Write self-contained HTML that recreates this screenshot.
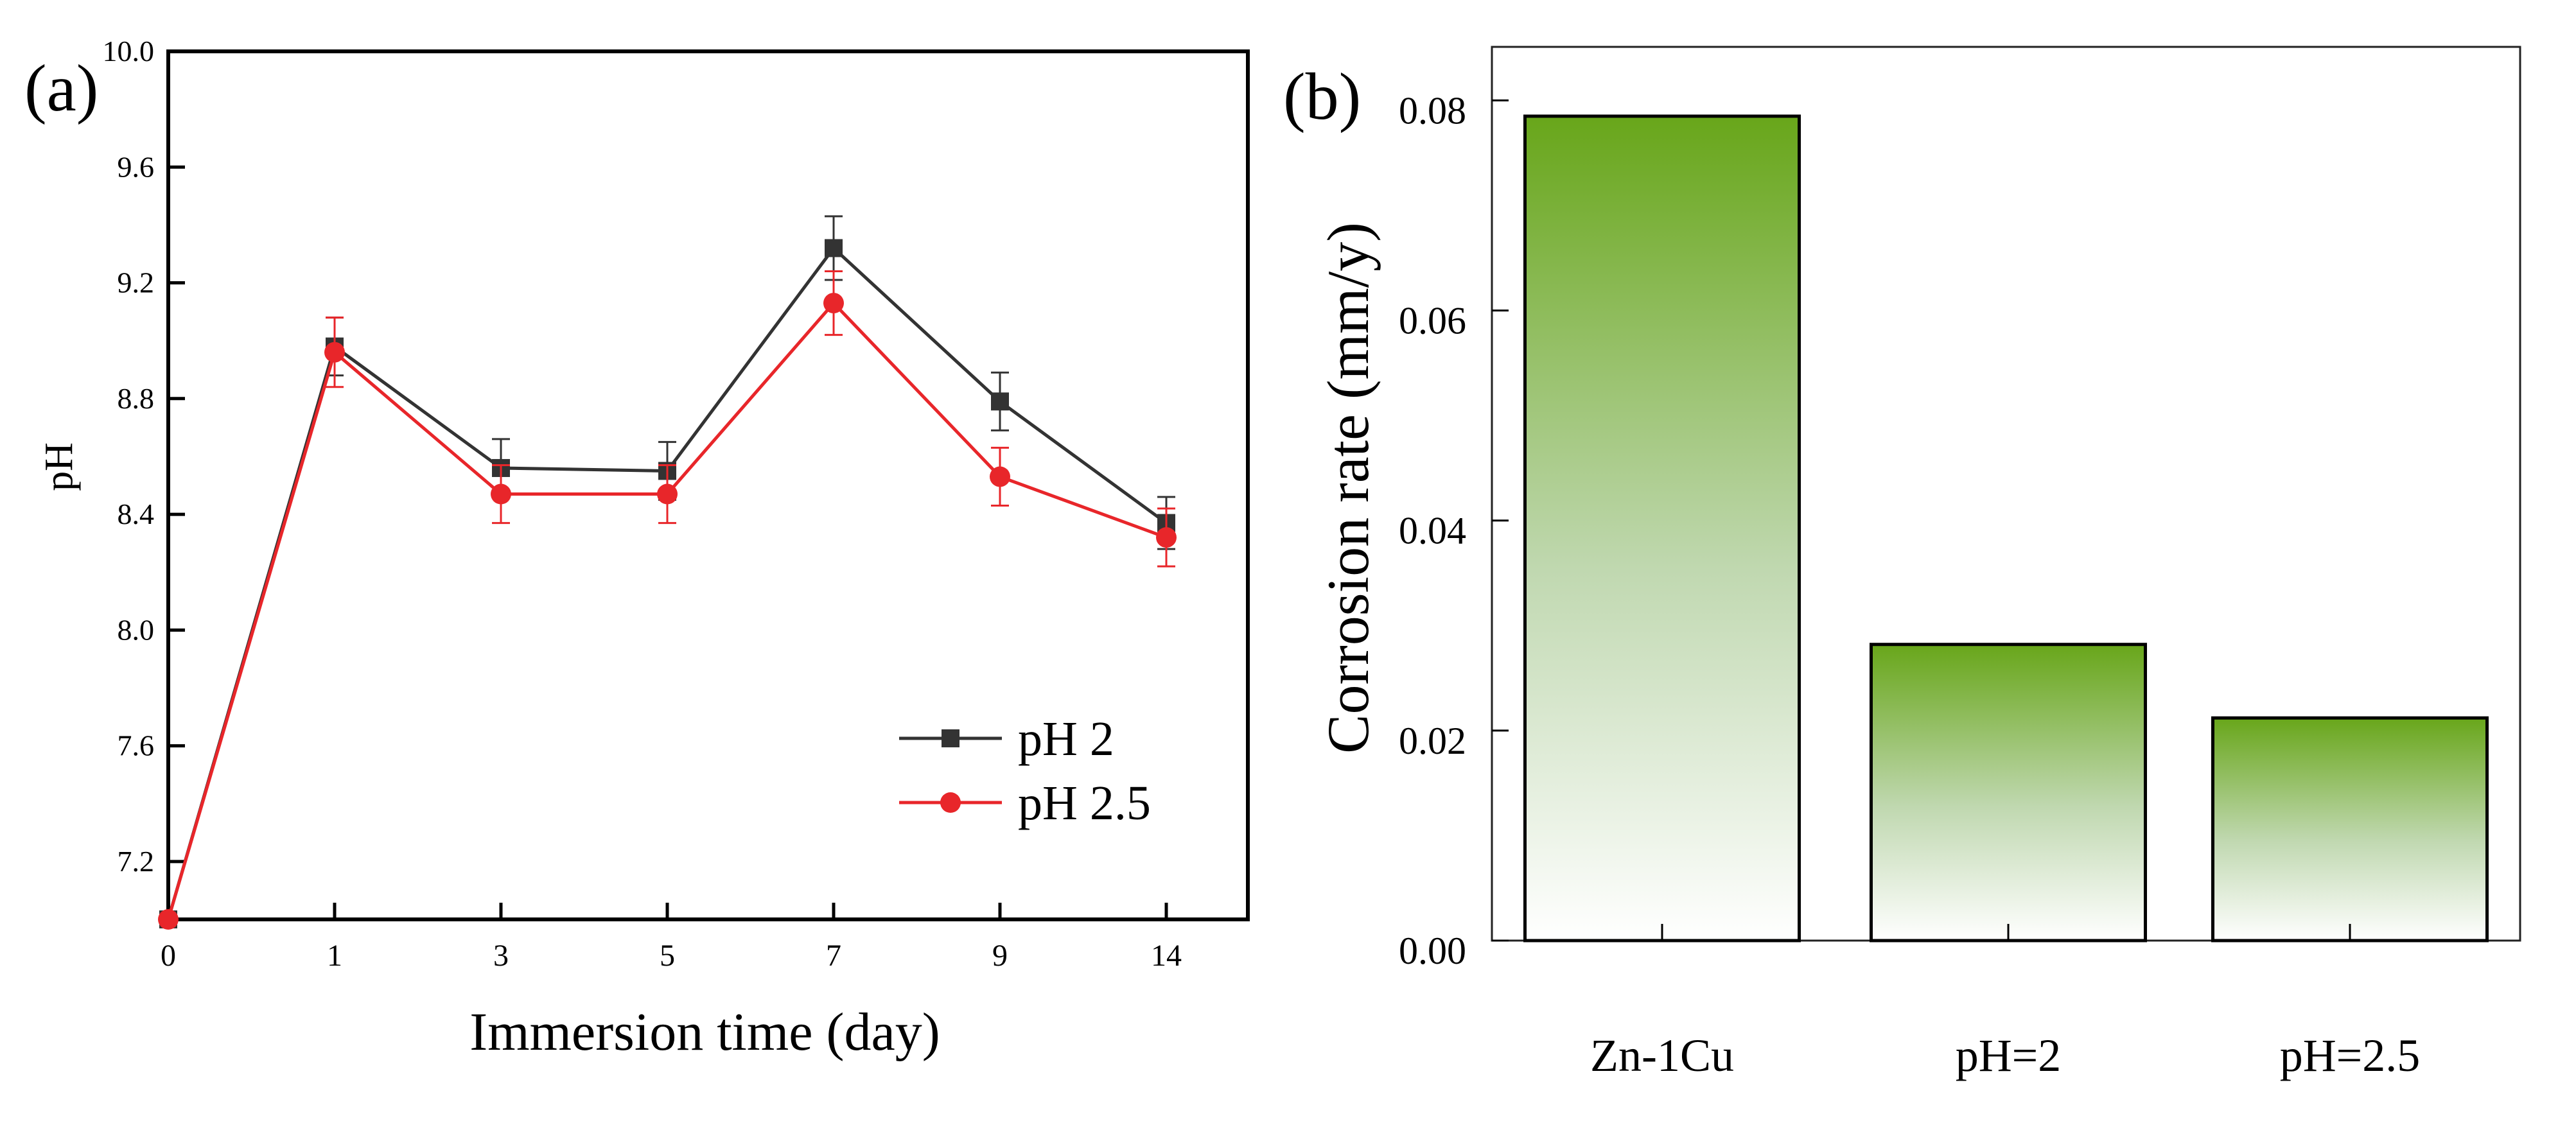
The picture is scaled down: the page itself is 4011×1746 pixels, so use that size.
<!DOCTYPE html>
<html><head><meta charset="utf-8"><style>
html,body{margin:0;padding:0;background:#fff}
svg{display:block;font-family:"Liberation Serif",serif}
</style></head><body>
<svg id="fig" width="4011" height="1746" viewBox="0 0 4011 1746" xmlns="http://www.w3.org/2000/svg">
<defs>
<linearGradient id="g" x1="0" y1="0" x2="0" y2="1">
<stop offset="0" stop-color="#68a61a"/><stop offset="0.55" stop-color="#c0d8b0"/><stop offset="1" stop-color="#ffffff"/>
</linearGradient>
</defs>
<g id="pa"></g>
<g id="pb"></g>
</svg>
<script>
const days = ["0","1","3","5","7","9","14"];
const ph2 = [7.0, 8.98, 8.56, 8.55, 9.32, 8.79, 8.37];
const ph2Err = [0, 0.1, 0.1, 0.1, 0.11, 0.1, 0.09];
const ph25 = [7.0, 8.96, 8.47, 8.47, 9.13, 8.53, 8.32];
const ph25Err = [0, 0.12, 0.1, 0.1, 0.11, 0.1, 0.1];
const yTicksA = [7.2, 7.6, 8.0, 8.4, 8.8, 9.2, 9.6, 10.0];
const cats = ["Zn-1Cu","pH=2","pH=2.5"];
const rates = [0.0785, 0.0282, 0.0212];
const yTicksB = [0.00, 0.02, 0.04, 0.06, 0.08];

const NS="http://www.w3.org/2000/svg";
function mk(p,t,a,txt){const e=document.createElementNS(NS,t);for(const k in a)e.setAttribute(k,a[k]);if(txt!==undefined)e.textContent=txt;p.appendChild(e);return e;}

// Panel A
const A=document.getElementById('pa');
const aL=262,aR=1943,aT=80,aB=1432;
const xA=i=>aL+i*259;
const yA=v=>aB-(v-7.0)/3.0*(aB-aT);
let e=mk(A,'rect',{x:aL,y:aT,width:aR-aL,height:aB-aT,fill:'none',stroke:'#000','stroke-width':6});


yTicksA.forEach(v=>{
  e=mk(A,'line',{x1:aL,x2:aL+26,y1:yA(v),y2:yA(v),stroke:'#000','stroke-width':5});
  
  
  e=mk(A,'text',{x:aL-22,y:yA(v)+15,'text-anchor':'end','font-size':46},v.toFixed(1));
  
  
});
days.forEach((d,i)=>{
  e=mk(A,'line',{x1:xA(i),x2:xA(i),y1:aB,y2:aB-26,stroke:'#000','stroke-width':5});
  
  
  e=mk(A,'text',{x:xA(i),y:aB+72,'text-anchor':'middle','font-size':48},d);
  
  
});
e=mk(A,'text',{x:(aL+aR)/2-5,y:1635,'text-anchor':'middle','font-size':84},'Immersion time (day)');


e=mk(A,'text',{x:0,y:0,'text-anchor':'middle','font-size':62,transform:'translate(112,727) rotate(-90)'},'pH');


e=mk(A,'text',{x:38,y:172,'font-size':104},'(a)');



function series(vals,errs,color,marker,name){
  const g=mk(A,'g',{});
  
  
  vals.forEach((v,i)=>{ if(errs[i]>0){
    const x=xA(i),y1=yA(v+errs[i]),y2=yA(v-errs[i]);
    e=mk(g,'path',{d:`M${x},${y1}V${y2}M${x-14},${y1}H${x+14}M${x-14},${y2}H${x+14}`,stroke:color,'stroke-width':3,fill:'none'});
    
    
  }});
  e=mk(g,'polyline',{points:vals.map((v,i)=>xA(i)+','+yA(v)).join(' '),fill:'none',stroke:color,'stroke-width':5});
  
  
  vals.forEach((v,i)=>{
    if(marker==='sq') e=mk(g,'rect',{x:xA(i)-14,y:yA(v)-14,width:28,height:28,fill:color});
    else e=mk(g,'circle',{cx:xA(i),cy:yA(v),r:16,fill:color});
    
    
  });
}
series(ph2,ph2Err,'#333333','sq','series-ph2');
series(ph25,ph25Err,'#e8262a','ci','series-ph2-5');
const lg=mk(A,'g',{});


[['pH 2','#333333','sq',1150],['pH 2.5','#e8262a','ci',1250]].forEach(([t,c,m,y])=>{
  e=mk(lg,'line',{x1:1400,x2:1560,y1:y,y2:y,stroke:c,'stroke-width':5});
  
  
  if(m==='sq') e=mk(lg,'rect',{x:1466,y:y-14,width:28,height:28,fill:c}); else e=mk(lg,'circle',{cx:1480,cy:y,r:16,fill:c});
  
  
  e=mk(lg,'text',{x:1585,y:y+26,'font-size':76},t);
  
  
});

// Panel B
const B=document.getElementById('pb');
const bL=2323,bR=3924,bT=73,bB=1465;
const yB=v=>bB-v/0.0851*(bB-bT);
const cx=[2588,3127,3659], bw=427;
e=mk(B,'rect',{x:bL,y:bT,width:bR-bL,height:bB-bT,fill:'none',stroke:'#222','stroke-width':3});


yTicksB.forEach(v=>{
  e=mk(B,'line',{x1:bL,x2:bL+26,y1:yB(v),y2:yB(v),stroke:'#000','stroke-width':3});
  
  
  e=mk(B,'text',{x:bL-40,y:yB(v)+36,'text-anchor':'end','font-size':60},v.toFixed(2));
  
  
});
rates.forEach((v,i)=>{
  e=mk(B,'rect',{x:cx[i]-bw/2,y:yB(v),width:bw,height:bB-yB(v),fill:'url(#g)',stroke:'#000','stroke-width':5});
  
  
  e=mk(B,'line',{x1:cx[i],x2:cx[i],y1:bB-26,y2:bB,stroke:'#000','stroke-width':3});
  
  
  e=mk(B,'text',{x:cx[i],y:1668,'text-anchor':'middle','font-size':72},cats[i]);
  
  
});
e=mk(B,'text',{x:0,y:0,'text-anchor':'middle','font-size':92,transform:'translate(2130,760) rotate(-90)'},'Corrosion rate (mm/y)');


e=mk(B,'text',{x:1998,y:185,'font-size':104},'(b)');


</script>
</body></html>
